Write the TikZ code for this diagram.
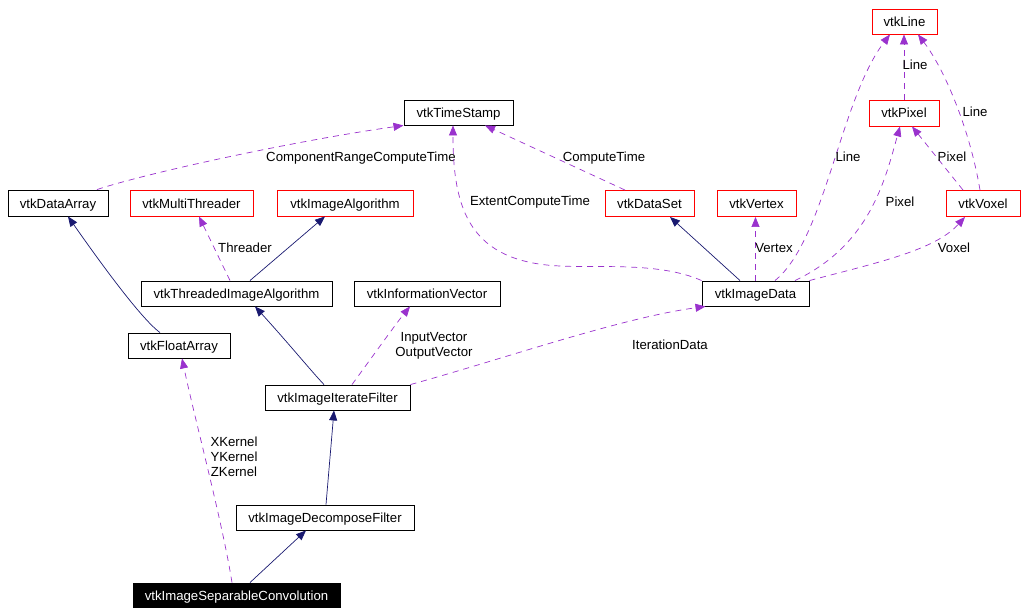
\documentclass[tikz,border=0pt]{standalone}
\usepackage{fontspec}
\setmainfont{Liberation Sans}
\usetikzlibrary{arrows.meta}
\definecolor{navyc}{HTML}{191970}
\definecolor{purp}{HTML}{9A32CD}
\newcommand{\dfont}{\fontsize{13.2}{15}\selectfont}
\tikzset{
  cls/.style={draw=black, rectangle, inner sep=0pt, minimum height=25pt, font=\dfont, line width=0.9pt, text height=10.5pt, text depth=0.5pt},
  redcls/.style={cls, draw=red},
  inh/.style={draw=navyc, line width=0.7pt, -{Triangle[length=10pt,width=8pt]}},
  use/.style={draw=purp, line width=0.7pt, dash pattern=on 6pt off 5pt, -{Triangle[length=10pt,width=8pt]}},
  lbl/.style={font=\dfont, inner sep=0pt, align=center, text height=10.5pt, text depth=0.5pt},
  mlbl/.style={font=\dfont, inner sep=0pt, align=center}
}
\begin{document}
\begin{tikzpicture}[x=1pt,y=-1pt]
\useasboundingbox (0,0) rectangle (1026,615);
% nodes
\node[redcls, minimum width=65pt] (line) at (904.5,21.5) {vtkLine};
\node[redcls, minimum width=70pt, minimum height=26pt] (pixel) at (904,113) {vtkPixel};
\node[cls, minimum width=109pt] (timestamp) at (458.5,112.5) {vtkTimeStamp};
\node[cls, minimum width=100pt, minimum height=26pt] (dataarray) at (58,203) {vtkDataArray};
\node[redcls, minimum width=123pt, minimum height=26pt] (multithreader) at (191.5,203) {vtkMultiThreader};
\node[redcls, minimum width=136pt, minimum height=26pt] (imagealgorithm) at (345,203) {vtkImageAlgorithm};
\node[redcls, minimum width=89pt, minimum height=26pt] (dataset) at (649.5,203.5) {vtkDataSet};
\node[redcls, minimum width=79pt, minimum height=26pt] (vertex) at (756.5,203.5) {vtkVertex};
\node[redcls, minimum width=74pt, minimum height=26pt] (voxel) at (983,203.5) {vtkVoxel};
\node[cls, minimum width=191pt] (threaded) at (236.5,293.5) {vtkThreadedImageAlgorithm};
\node[cls, minimum width=146pt] (infovector) at (427,293.5) {vtkInformationVector};
\node[cls, minimum width=107pt] (imagedata) at (755.5,293.5) {vtkImageData};
\node[cls, minimum width=102pt] (floatarray) at (179,345.5) {vtkFloatArray};
\node[cls, minimum width=145pt] (iterate) at (337.5,397.5) {vtkImageIterateFilter};
\node[cls, minimum width=178pt] (decompose) at (325,517.5) {vtkImageDecomposeFilter};
\node[cls, fill=black, text=white, minimum width=207pt, minimum height=24pt] (sepconv) at (236.5,595) {vtkImageSeparableConvolution};
% inheritance edges
\draw[inh] ([xshift=-19pt]floatarray.north) .. controls (140,318) and (95,255) .. ([xshift=10pt]dataarray.south);
\draw[inh] ([xshift=13.5pt]threaded.north) -- ([xshift=-20pt]imagealgorithm.south);
\draw[inh] ([xshift=-13.5pt]iterate.north) .. controls (312,372) and (290,345) .. ([xshift=18.5pt]threaded.south);
\draw[inh] ([xshift=1pt]decompose.north) -- ([xshift=-3.5pt]iterate.south);
\draw[inh] ([xshift=13.5pt]sepconv.north) -- ([xshift=-19pt]decompose.south);
\draw[inh] ([xshift=-15.5pt]imagedata.north) -- ([xshift=20.5pt]dataset.south);
% usage edges
\draw[use] ([xshift=-6.5pt]threaded.north) -- ([xshift=7.5pt]multithreader.south);
\node[lbl] (lthreader) at (245,247) {Threader};
\draw[use] ([xshift=14.5pt]iterate.north) .. controls (370,360) and (395,325) .. ([xshift=-17pt]infovector.south);
\node[mlbl] (lvec) at (434,346) {InputVector\\OutputVector};
\draw[use] (iterate.north east) .. controls (500,360) and (620,318) .. ([xshift=-50pt]imagedata.south);
\node[lbl] (liter) at (670,344) {IterationData};
\draw[use] ([xshift=-4.5pt]sepconv.north) .. controls (222,520) and (195,420) .. ([xshift=3pt]floatarray.south);
\node[mlbl] (lkern) at (234,457) {XKernel\\YKernel\\ZKernel};
\draw[use] ([xshift=39pt]dataarray.north) .. controls (150,172) and (300,140) .. ([xshift=-55pt]timestamp.south);
\node[lbl] (lcomp) at (361,157) {ComponentRangeComputeTime};
\draw[use] (imagedata.north west) .. controls (660,262) and (600,268) .. (560,266) .. controls (470,262) and (453,210) .. ([xshift=-5.5pt]timestamp.south);
\node[lbl] (lext) at (530,201) {ExtentComputeTime};
\draw[use] ([xshift=-24.5pt]dataset.north) -- ([xshift=26.5pt]timestamp.south);
\node[lbl] (lct) at (604,156) {ComputeTime};
\draw[use] (imagedata.north) -- (imagedata.north |- vertex.south);
\node[lbl] (lvert) at (774,247) {Vertex};
\draw[use] ([xshift=19.5pt]imagedata.north) .. controls (825,240) and (840,100) .. ([xshift=-14.5pt]line.south);
\node[lbl] (lline1) at (848,156) {Line};
\draw[use] ([xshift=39.5pt]imagedata.north) .. controls (870,245) and (885,180) .. ([xshift=-4pt]pixel.south);
\node[lbl] (lpix1) at (900,202) {Pixel};
\draw[use] (imagedata.north east) .. controls (880,262) and (935,250) .. ([xshift=-18pt]voxel.south);
\node[lbl] (lvox) at (954,247) {Voxel};
\draw[use] (pixel.north) -- (pixel.north |- line.south);
\node[lbl] (lline2) at (915,65) {Line};
\draw[use] ([xshift=-20pt]voxel.north) -- ([xshift=8pt]pixel.south);
\node[lbl] (lpix2) at (952,156) {Pixel};
\draw[use] ([xshift=-3pt]voxel.north) .. controls (970,130) and (945,70) .. ([xshift=13.5pt]line.south);
\node[lbl] (lline3) at (975,112) {Line};
\end{tikzpicture}
\end{document}
